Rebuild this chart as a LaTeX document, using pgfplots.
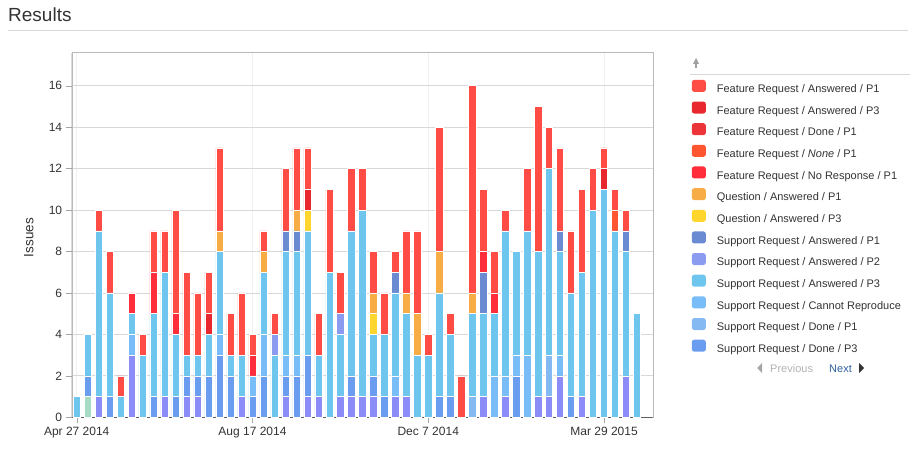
\documentclass[border=0pt]{standalone}
\usepackage{fontspec}
\setmainfont{Liberation Sans}
\usepackage{pgfplots}
\usepackage{pgfplotstable}
\pgfplotsset{compat=1.18}

\definecolor{fap1}{HTML}{FF4D45}
\definecolor{fap3}{HTML}{E8282E}
\definecolor{fdp1}{HTML}{EC3538}
\definecolor{fnp1}{HTML}{FF5530}
\definecolor{fnrp1}{HTML}{FF2E3A}
\definecolor{qap1}{HTML}{F8AC45}
\definecolor{qap3}{HTML}{FFD52E}
\definecolor{sap1}{HTML}{6A8BD2}
\definecolor{sap2}{HTML}{8B9CF0}
\definecolor{sap3}{HTML}{6EC6EF}
\definecolor{scr}{HTML}{78BCF8}
\definecolor{sdp1}{HTML}{85B9F2}
\definecolor{sdp3}{HTML}{6A9CF0}
\definecolor{purp}{HTML}{8C8CF9}
\definecolor{grn}{HTML}{A6DCC3}
\definecolor{txt}{HTML}{333333}
\definecolor{gridc}{HTML}{D8D8D8}

% weekly issue counts, week 0 = Apr 27 2014
% G, PU: series from the second legend page
\pgfplotstableread{
x  G PU D3 D1 CR A3 A2 A1 Q3 Q1 NR NO FD F3 F1
0  0 0  0  0  0  1  0  0  0  0  0  0  0  0  0
1  1 0  1  0  0  2  0  0  0  0  0  0  0  0  0
2  0 1  0  0  0  8  0  0  0  0  0  0  0  0  1
3  0 0  1  0  0  5  0  0  0  0  0  0  0  0  2
4  0 0  0  0  0  1  0  0  0  0  0  0  0  0  1
5  0 3  0  0  1  1  0  0  0  0  1  0  0  0  0
6  0 0  0  0  0  3  0  0  0  0  0  0  0  0  1
7  0 0  1  0  0  4  0  0  0  0  2  0  0  0  2
8  0 1  0  0  0  6  0  0  0  0  0  0  0  0  2
9  0 0  1  0  0  3  0  0  0  0  1  0  0  0  5
10 0 1  1  0  0  1  0  0  0  0  0  0  0  0  4
11 0 1  1  0  0  1  0  0  0  0  0  0  0  0  3
12 0 0  2  0  0  2  0  0  0  0  0  0  0  1  2
13 0 0  3  0  1  4  0  0  0  1  0  0  0  0  4
14 0 0  2  0  0  1  0  0  0  0  0  0  0  0  2
15 0 1  0  0  0  2  0  0  0  0  0  0  0  0  3
16 0 0  1  0  1  0  0  0  0  0  1  0  0  0  1
17 0 0  2  0  2  3  0  0  0  1  0  0  0  0  1
18 0 0  0  0  0  3  1  0  0  0  0  0  0  0  1
19 0 1  1  0  1  5  0  1  0  0  0  0  0  0  3
20 0 0  2  0  1  5  0  1  0  1  0  0  0  0  3
21 0 1  2  0  0  6  0  0  1  0  0  0  0  1  2
22 0 1  0  0  0  2  0  0  0  0  0  0  0  0  2
23 0 0  0  0  0  7  0  0  0  0  0  0  0  0  4
24 0 1  0  0  0  3  1  0  0  0  0  0  0  0  2
25 0 1  1  0  0  7  0  0  0  0  0  0  0  0  3
26 0 1  0  0  0  9  0  0  0  0  0  0  0  0  2
27 0 1  1  0  0  2  0  0  1  1  0  0  0  0  2
28 0 0  1  0  0  3  0  0  0  0  0  0  0  0  2
29 0 1  0  0  1  4  0  1  0  0  0  0  0  0  1
30 0 1  0  0  0  4  0  0  0  1  0  0  0  0  3
31 0 0  0  0  0  3  0  0  0  2  0  0  0  0  4
32 0 0  0  0  0  3  0  0  0  0  0  0  0  0  1
33 0 0  1  0  0  5  0  0  0  2  0  0  0  0  6
34 0 0  1  0  0  3  0  0  0  0  0  0  0  0  1
35 0 0  0  0  0  0  0  0  0  0  0  0  0  0  2
36 0 0  0  1  0  4  0  0  0  1  0  0  0  0  10
37 0 1  0  0  0  4  0  2  0  0  1  0  0  0  3
38 0 0  0  0  2  3  0  0  0  0  1  0  0  0  2
39 0 1  0  0  1  7  0  0  0  0  0  0  0  0  1
40 0 0  2  0  1  5  0  0  0  0  0  0  0  0  0
41 0 0  0  0  3  6  0  0  0  0  0  0  0  0  3
42 0 1  0  0  0  7  0  0  0  0  0  0  0  0  7
43 0 1  0  2  0  9  0  0  0  0  0  0  0  0  2
44 0 2  0  0  1  5  0  1  0  0  0  0  0  0  4
45 0 0  1  0  0  5  0  0  0  0  0  0  0  0  3
46 0 1  0  0  0  6  0  0  0  0  0  0  0  0  4
47 0 0  0  0  0  10 0  0  0  0  0  0  0  0  2
48 0 0  0  0  0  11 0  0  0  0  0  0  0  1  1
49 0 0  0  0  0  9  0  0  0  0  0  1  0  0  1
50 0 2  0  0  0  6  0  1  0  0  0  0  0  0  1
51 0 0  0  0  0  5  0  0  0  0  0  0  0  0  0
}\issues

\pgfplotsset{
  swatch/.style={fill=#1, draw=white, line width=0.5pt,
    legend image code/.code={
      \fill[fill=#1, draw=none, rounded corners=2.5pt] (0pt,-2pt) rectangle (14pt,10pt);
      \path[draw=none, fill=none] (0pt,4pt) -- (25pt,4pt);}},
}

\begin{document}
\begin{tikzpicture}
\useasboundingbox (0pt,0pt) rectangle (920pt,450pt);

% page header
\node[anchor=base west, inner sep=0pt, text=txt, font=\fontsize{19}{22}\selectfont] at (8pt,428pt) {Results};
\draw[gridc, line width=0.8pt] (8pt,420pt) -- (908pt,420pt);

\begin{axis}[
    at={(71.7pt,32.7pt)}, anchor=south west,
    scale only axis, width=581pt, height=364.6pt,
    ybar stacked, bar width=0.66,
    xmin=-0.455, xmax=52.43,
    ymin=0, ymax=17.59,
    xtick={0,16,32,48},
    xticklabels={Apr 27 2014, Aug 17 2014, Dec 7 2014, Mar 29 2015},
    ytick={0,2,...,16},
    tick align=outside, major tick length=6pt,
    tick style={draw=gray!70},
    xtick pos=bottom, ytick pos=left,
    ymajorgrids, xmajorgrids,
    y grid style={gridc, line width=0.8pt},
    x grid style={gray!12},
    axis line style={draw=gray!55},
    /pgf/number format/assume math mode=true,
    ticklabel style={font=\fontsize{12}{14}\selectfont, text=txt},
    ylabel={Issues},
    ylabel style={at={(axis description cs:-0.074,0.493)}, anchor=center,
                  font=\fontsize{13.5}{16}\selectfont, text=txt},
    reverse legend,
    legend cell align=left,
    legend style={at={(axis description cs:1.067,0.926)}, anchor=north west,
        draw=none, fill=none, inner sep=0pt, row sep=6.4pt,
        font=\fontsize{11}{13}\selectfont, text=txt,
        nodes={inner sep=0pt, text height=8pt, text depth=2.5pt}},
]
\addplot[swatch=grn, forget plot] table[x=x, y=G] {\issues};
\addplot[swatch=purp, forget plot] table[x=x, y=PU] {\issues};
\addplot[swatch=sdp3] table[x=x, y=D3] {\issues};
\addlegendentry{Support Request / Done / P3}
\addplot[swatch=sdp1] table[x=x, y=D1] {\issues};
\addlegendentry{Support Request / Done / P1}
\addplot[swatch=scr] table[x=x, y=CR] {\issues};
\addlegendentry{Support Request / Cannot Reproduce}
\addplot[swatch=sap3] table[x=x, y=A3] {\issues};
\addlegendentry{Support Request / Answered / P3}
\addplot[swatch=sap2] table[x=x, y=A2] {\issues};
\addlegendentry{Support Request / Answered / P2}
\addplot[swatch=sap1] table[x=x, y=A1] {\issues};
\addlegendentry{Support Request / Answered / P1}
\addplot[swatch=qap3] table[x=x, y=Q3] {\issues};
\addlegendentry{Question / Answered / P3}
\addplot[swatch=qap1] table[x=x, y=Q1] {\issues};
\addlegendentry{Question / Answered / P1}
\addplot[swatch=fnrp1] table[x=x, y=NR] {\issues};
\addlegendentry{Feature Request / No Response / P1}
\addplot[swatch=fnp1] table[x=x, y=NO] {\issues};
\addlegendentry{Feature Request / \textit{None} / P1}
\addplot[swatch=fdp1] table[x=x, y=FD] {\issues};
\addlegendentry{Feature Request / Done / P1}
\addplot[swatch=fap3] table[x=x, y=F3] {\issues};
\addlegendentry{Feature Request / Answered / P3}
\addplot[swatch=fap1] table[x=x, y=F1] {\issues};
\addlegendentry{Feature Request / Answered / P1}
% darker left and bottom axis lines over the bars
\draw[gray!75!black, line width=0.8pt] (rel axis cs:0,0) -- (rel axis cs:1,0);
\draw[gray!80, line width=0.8pt] (rel axis cs:0,0) -- (rel axis cs:0,1);
\end{axis}

% legend paging controls
\fill[gray!75] (693pt,386pt) -- (699pt,386pt) -- (696pt,392pt) -- cycle;
\fill[gray!75] (695pt,382pt) rectangle (697pt,386.5pt);
\draw[gridc, line width=0.8pt] (690pt,376pt) -- (910pt,376pt);
\fill[gray!70] (762pt,77pt) -- (762pt,87pt) -- (757pt,82pt) -- cycle;
\node[anchor=base west, inner sep=0pt, text=gray!60, font=\fontsize{11}{13}\selectfont] at (770pt,78pt) {Previous};
\node[anchor=base west, inner sep=0pt, text={rgb,255:red,47;green,95;blue,160}, font=\fontsize{11}{13}\selectfont] at (829pt,78pt) {Next};
\fill[txt] (859pt,77pt) -- (859pt,87pt) -- (864pt,82pt) -- cycle;
\end{tikzpicture}
\end{document}
